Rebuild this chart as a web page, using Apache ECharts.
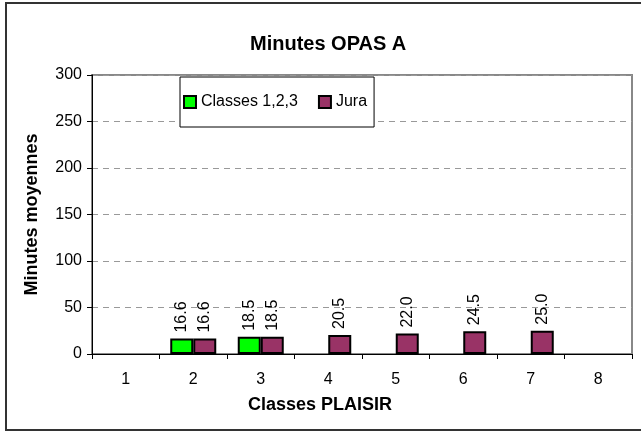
<!DOCTYPE html>
<html>
<head>
<meta charset="utf-8">
<script src="https://cdn.jsdelivr.net/npm/echarts@6/dist/echarts.min.js"></script>
<style>html,body{margin:0;padding:0;background:#fff;}#c{width:641px;height:432px;}</style>
</head>
<body>
<div id="c"></div>
<script>
var categories = ['1','2','3','4','5','6','7','8'];
var seriesNames = ['Classes 1,2,3', 'Jura'];
var classes123 = [null, 16.6, 18.5, null, null, null, null, null];
var jura = [null, 16.6, 18.5, 20.5, 22.0, 24.5, 25.0, null];
var yTicks = [0, 50, 100, 150, 200, 250, 300];

var font = 'Arial, "Liberation Sans", sans-serif';
var chart = echarts.init(document.getElementById('c'), null, {renderer: 'canvas'});

function mkSeries(name, data, color) {
  return {
    name: name,
    type: 'bar',
    data: data,
    barWidth: 23,
    barGap: '0%',
    itemStyle: {color: color, borderColor: '#000', borderWidth: 2},
    label: {
      show: true,
      position: 'top',
      rotate: 90,
      align: 'left',
      verticalAlign: 'middle',
      distance: 6,
      fontFamily: font,
      fontSize: 16,
      color: '#000',
      formatter: function (p) { return p.value == null ? '' : Number(p.value).toFixed(1); }
    }
  };
}

chart.setOption({
  animation: false,
  backgroundColor: '#fff',
  title: {
    text: 'Minutes OPAS A',
    left: 245, top: 29,
    textStyle: {fontFamily: font, fontSize: 20, fontWeight: 'bold', color: '#000'}
  },
  graphic: [{
    type: 'rect',
    shape: {x: 6, y: 3, width: 660, height: 427},
    style: {fill: 'none', stroke: '#333', lineWidth: 2},
    silent: true
  }],
  legend: {
    left: 180, top: 77,
    orient: 'horizontal',
    backgroundColor: '#fff',
    borderColor: '#000',
    borderWidth: 1,
    padding: [17, 7, 17, 3],
    itemGap: 20,
    itemWidth: 12, itemHeight: 12,
    icon: 'rect',
    textStyle: {fontFamily: font, fontSize: 16, color: '#000'},
    data: seriesNames
  },
  grid: {
    left: 92, top: 75, right: 9, bottom: 78,
    show: true, borderColor: '#888', borderWidth: 2, backgroundColor: 'transparent'
  },
  xAxis: {
    type: 'category',
    data: categories,
    name: 'Classes PLAISIR',
    nameLocation: 'middle',
    nameGap: 42,
    nameTextStyle: {fontFamily: font, fontSize: 18, fontWeight: 'bold', color: '#000', padding: [0, 84, 0, 0]},
    axisLine: {lineStyle: {color: '#000', width: 1}},
    axisTick: {show: true, alignWithLabel: false, length: 5, lineStyle: {color: '#000'}},
    axisLabel: {fontFamily: font, fontSize: 16, color: '#000', margin: 18},
    splitLine: {show: false}
  },
  yAxis: {
    type: 'value',
    min: yTicks[0], max: yTicks[yTicks.length - 1], interval: 50,
    name: 'Minutes moyennes',
    nameLocation: 'middle',
    nameGap: 51,
    nameTextStyle: {fontFamily: font, fontSize: 18, fontWeight: 'bold', color: '#000'},
    axisLine: {show: true, lineStyle: {color: '#000', width: 1}},
    axisTick: {show: true, length: 5, lineStyle: {color: '#000'}},
    axisLabel: {fontFamily: font, fontSize: 16, color: '#000', margin: 10},
    splitLine: {show: true, lineStyle: {color: '#999', type: [6, 5], width: 1}}
  },
  series: [
    mkSeries(seriesNames[0], classes123, '#00FF00'),
    mkSeries(seriesNames[1], jura, '#993366')
  ]
});
</script>
</body>
</html>
